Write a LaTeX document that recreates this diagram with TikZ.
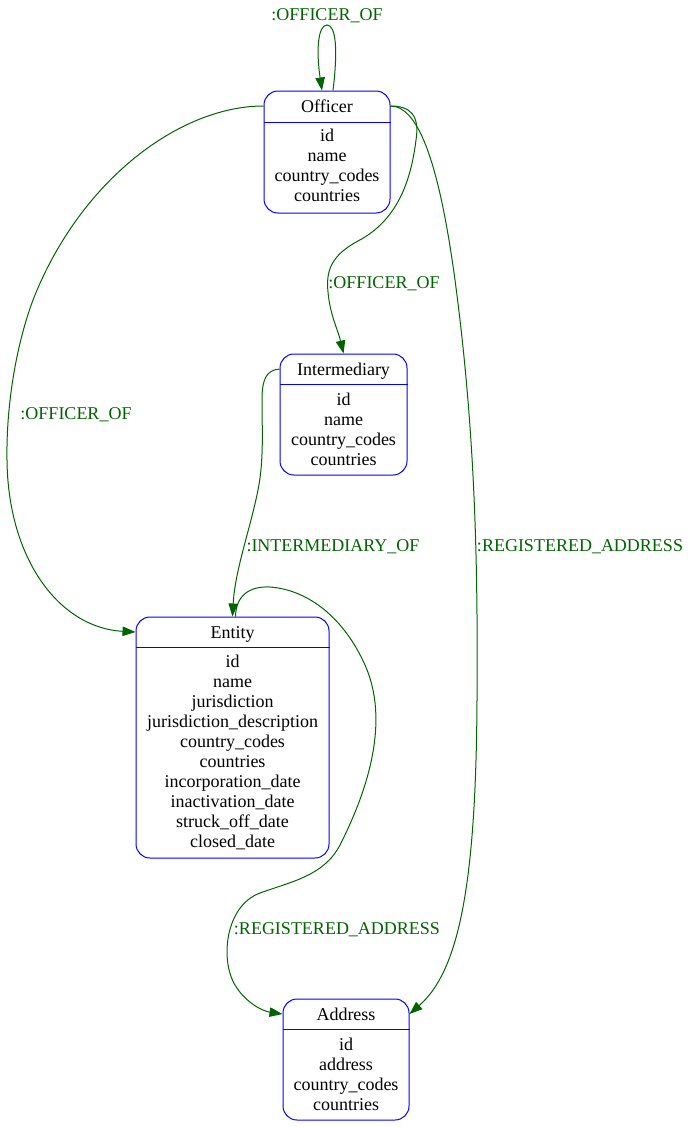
\documentclass[tikz,border=0pt]{standalone}
\usepackage{fontspec}
\setmainfont{Liberation Serif}
\usetikzlibrary{arrows.meta}
\definecolor{edgegreen}{RGB}{0,100,0}
\definecolor{boxblue}{RGB}{0,0,255}
\begin{document}
\begin{tikzpicture}[x=1pt,y=-1pt,
  box/.style={draw=boxblue, line width=1pt, rounded corners=14pt, inner sep=0pt},
  txt/.style={font=\fontsize{18}{20}\selectfont, text height=12pt, text depth=0pt, inner sep=0pt},
  lbl/.style={txt, text=edgegreen},
  sep/.style={draw=boxblue, line width=1pt},
  edge/.style={draw=edgegreen, line width=1pt, -{Triangle[length=13pt,width=9.5pt]}}]
\useasboundingbox (0,0) rectangle (689,1127);

% Officer
\node[box, minimum width=126pt, minimum height=122pt] (officer) at (327,152) {};
\node[txt] (officerT) at (327,106) {Officer};
\draw[sep] (officer.west |- 0,122) -- (officer.east |- 0,122);
\foreach \t [count=\i] in {id,name,country\_codes,countries}
  \node[txt] (officerF\i) at (327,{135+20*(\i-1)}) {\t};

% Intermediary
\node[box, minimum width=127pt, minimum height=121pt] (inter) at (343.5,414.5) {};
\node[txt] (interT) at (343.5,369) {Intermediary};
\draw[sep] (inter.west |- 0,384) -- (inter.east |- 0,384);
\foreach \t [count=\i] in {id,name,country\_codes,countries}
  \node[txt] (interF\i) at (343.5,{399+20*(\i-1)}) {\t};

% Entity
\node[box, minimum width=193pt, minimum height=241pt] (entity) at (232.5,737.5) {};
\node[txt] (entityT) at (232.5,632) {Entity};
\draw[sep] (entity.west |- 0,647) -- (entity.east |- 0,647);
\foreach \t [count=\i] in {id,name,jurisdiction,jurisdiction\_description,country\_codes,countries,incorporation\_date,inactivation\_date,struck\_off\_date,closed\_date}
  \node[txt] (entityF\i) at (232.5,{661+20.1*(\i-1)}) {\t};

% Address
\node[box, minimum width=126pt, minimum height=121pt] (address) at (346,1059.5) {};
\node[txt] (addressT) at (346,1014) {Address};
\draw[sep] (address.west |- 0,1029) -- (address.east |- 0,1029);
\foreach \t [count=\i] in {id,address,country\_codes,countries}
  \node[txt] (addressF\i) at (346,{1044+20*(\i-1)}) {\t};

% Edges
\draw[edge] ([xshift=6pt]officer.north) .. controls (338,50) and (336,25) .. (327,25)
  .. controls (318,25) and (316,50) .. ([xshift=-5pt]officer.north);
\node[lbl] (l1) at (327,14) {:OFFICER\_OF};

\draw[edge] (officer.west |- officerT) .. controls (180,106) and (80,180) .. (33,300)
  .. controls (18,340) and (6,400) .. (7,460)
  .. controls (8,560) and (60,628) .. (entity.west |- entityT);
\node[lbl] (l2) at (76,413) {:OFFICER\_OF};

\draw[edge] (officer.east |- officerT) .. controls (410,106) and (420,115) .. (416,140)
  .. controls (411,180) and (398,220) .. (358,241)
  .. controls (330,256) and (326,272) .. (328,292)
  .. controls (330,315) and (338,330) .. (inter.north);
\node[lbl] (l3) at (384,282) {:OFFICER\_OF};

\draw[edge] (officer.east |- officerT) .. controls (420,106) and (440,170) .. (455,280)
  .. controls (475,430) and (478,560) .. (477,700)
  .. controls (476,880) and (460,970) .. (address.east |- addressT);
\node[lbl] (l4) at (580,545) {:REGISTERED\_ADDRESS};

\draw[edge] (inter.west |- interT) .. controls (266,370) and (262,380) .. (262,400)
  .. controls (262,430) and (264,460) .. (258,490)
  .. controls (250,530) and (235,570) .. (entity.north);
\node[lbl] (l5) at (333,545) {:INTERMEDIARY\_OF};

\draw[edge] ([xshift=3pt]entity.north) .. controls (236,595) and (250,586) .. (270,587)
  .. controls (310,590) and (345,620) .. (365,665)
  .. controls (385,710) and (378,770) .. (340,845)
  .. controls (324,876) and (290,882) .. (260,893)
  .. controls (225,906) and (220,960) .. (235,985)
  .. controls (245,1002) and (262,1011) .. (address.west |- addressT);
\node[lbl] (l6) at (337,928) {:REGISTERED\_ADDRESS};
\end{tikzpicture}
\end{document}
